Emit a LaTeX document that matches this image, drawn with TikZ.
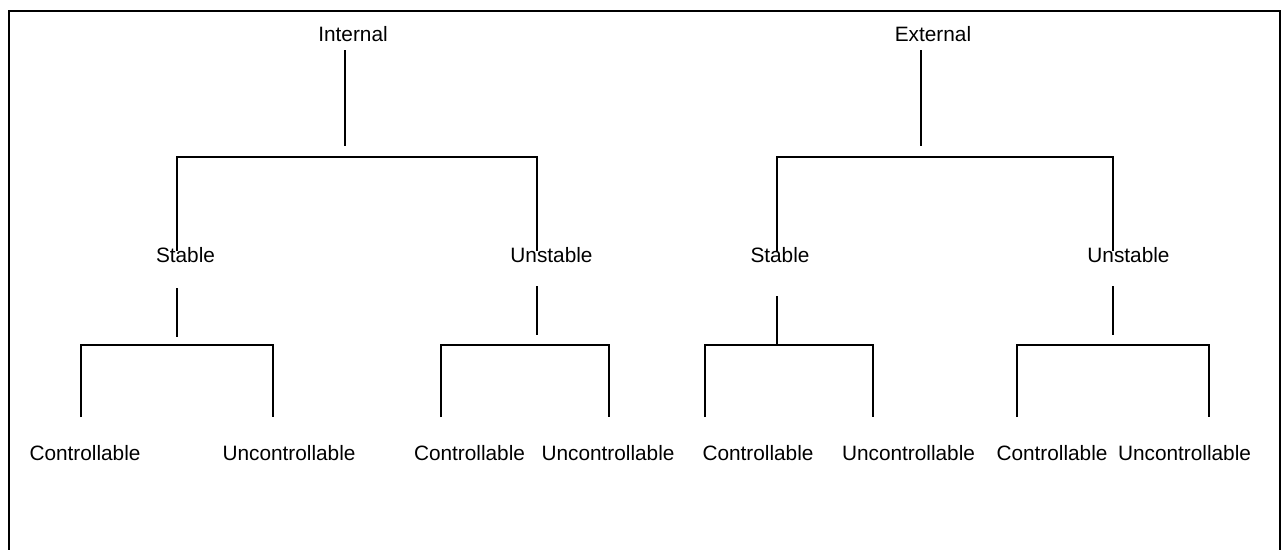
\documentclass[tikz,border=0pt]{standalone}
\usepackage{fontspec}
\setmainfont{Liberation Sans}
\begin{document}
\begin{tikzpicture}[x=1pt,y=-1pt,
  lbl/.style={inner sep=0pt,anchor=base,font=\fontsize{20.8}{24}\selectfont},
  ln/.style={line width=2pt,black},
  frm/.style={line width=2pt,black}]
\useasboundingbox (0,0) rectangle (1284,549);
\draw[frm] (9,560) -- (9,10.5) -- (1280,10.5) -- (1280,560);
% level 0
\node[lbl] (int) at (353,41) {Internal};
\node[lbl] (ext) at (933,41) {External};
% level 1
\node[lbl] (is) at (185.5,262) {Stable};
\node[lbl] (iu) at (551.5,262) {Unstable};
\node[lbl] (es) at (780,262) {Stable};
\node[lbl] (eu) at (1128.5,262) {Unstable};
% level 2
\node[lbl] (isc) at (85,460) {Controllable};
\node[lbl] (isu) at (289,460) {Uncontrollable};
\node[lbl] (iuc) at (469.5,460) {Controllable};
\node[lbl] (iuu) at (608,460) {Uncontrollable};
\node[lbl] (esc) at (758,460) {Controllable};
\node[lbl] (esu) at (908.5,460) {Uncontrollable};
\node[lbl] (euc) at (1052,460) {Controllable};
\node[lbl] (euu) at (1184.5,460) {Uncontrollable};
% connectors level 0 -> 1
\coordinate (intA) at (345,50);  \coordinate (intB) at (345,146);
\coordinate (isT) at (177,251);  \coordinate (iuT) at (537,251);
\draw[ln] (intA) -- (intB);
\draw[ln] (isT) -- (177,157) -- (537,157) -- (iuT);
\coordinate (extA) at (921,50);  \coordinate (extB) at (921,146);
\coordinate (esT) at (777,251);  \coordinate (euT) at (1113,251);
\draw[ln] (extA) -- (extB);
\draw[ln] (esT) -- (777,157) -- (1113,157) -- (euT);
% connectors level 1 -> 2
\coordinate (isA) at (177,288); \coordinate (isB) at (177,337);
\draw[ln] (isA) -- (isB);
\coordinate (iscT) at (81,417); \coordinate (isuT) at (273,417);
\draw[ln] (iscT) -- (81,345) -- (273,345) -- (isuT);
\coordinate (iuA) at (537,286); \coordinate (iuB) at (537,335);
\draw[ln] (iuA) -- (iuB);
\coordinate (iucT) at (441,417); \coordinate (iuuT) at (609,417);
\draw[ln] (iucT) -- (441,345) -- (609,345) -- (iuuT);
\coordinate (esA) at (777,296); \coordinate (esB) at (777,344);
\draw[ln] (esA) -- (esB);
\coordinate (escT) at (705,417); \coordinate (esuT) at (873,417);
\draw[ln] (escT) -- (705,345) -- (873,345) -- (esuT);
\coordinate (euA) at (1113,286); \coordinate (euB) at (1113,335);
\draw[ln] (euA) -- (euB);
\coordinate (eucT) at (1017,417); \coordinate (euuT) at (1209,417);
\draw[ln] (eucT) -- (1017,345) -- (1209,345) -- (euuT);
\end{tikzpicture}
\end{document}
